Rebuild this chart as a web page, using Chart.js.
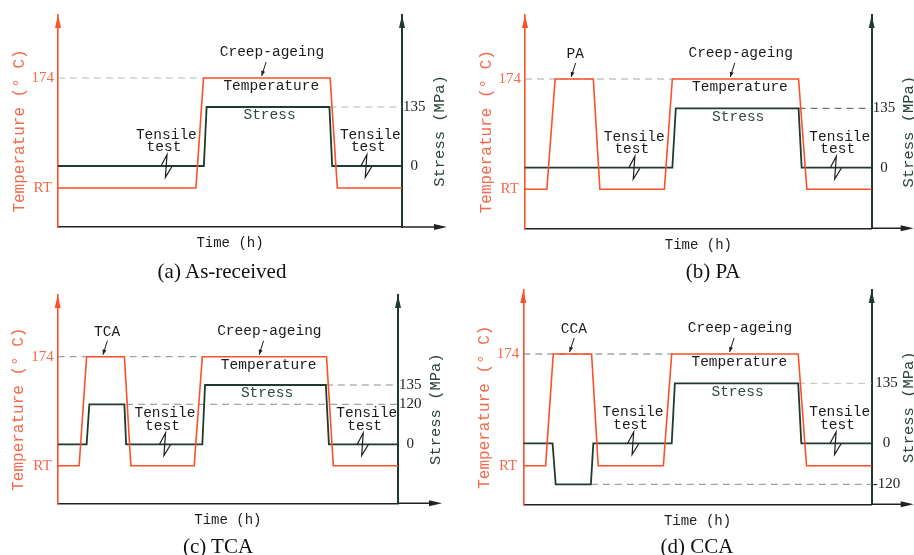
<!DOCTYPE html>
<html>
<head>
<meta charset="utf-8">
<script src="https://cdn.jsdelivr.net/npm/chart.js@4/dist/chart.umd.min.js"></script>
<style>
  body { margin: 0; background: #fff; width: 914px; height: 555px; position: relative; overflow: hidden; }
  canvas { position: absolute; }
  .caption { position: absolute; font-family: "Liberation Serif", serif; font-size: 21px; line-height: 26px; color: #111; white-space: nowrap; transform: translateX(-50%); }
</style>
</head>
<body>
<canvas id="chart-a" width="457" height="277" style="left:0;top:0"></canvas>
<canvas id="chart-b" width="457" height="277" style="left:457px;top:0"></canvas>
<canvas id="chart-c" width="457" height="278" style="left:0;top:277px"></canvas>
<canvas id="chart-d" width="457" height="278" style="left:457px;top:277px"></canvas>
<div class="caption" style="left:222px;top:258px">(a) As-received</div>
<div class="caption" style="left:713px;top:258px">(b) PA</div>
<div class="caption" style="left:218px;top:533px">(c) TCA</div>
<div class="caption" style="left:697px;top:533px">(d) CCA</div>
<script>
// schedule values; time is a 0-100 schematic axis
const RT = 25;
const tempTicks = [RT, 174];

const tempTimeA = [0, 40.1, 42.3, 79.1, 81.2, 100];
const tempValA = [RT, RT, 174, 174, RT, RT];
const stressTimeA = [0, 42.4, 43.2, 78.9, 79.7, 100];
const stressValA = [0, 0, 135, 135, 0, 0];
const stressTicksA = [0, 135];

const tempTimeB = [0, 6.3, 8.7, 19.7, 21.6, 40.2, 42.5, 78.9, 81.3, 100];
const tempValB = [RT, RT, 174, 174, RT, RT, 174, 174, RT, RT];
const stressTimeB = [0, 42.5, 43.5, 78.9, 79.8, 100];
const stressValB = [0, 0, 135, 135, 0, 0];
const stressTicksB = [0, 135];

const tempTimeC = [0, 6.3, 8.5, 19.6, 21.5, 40.1, 42.5, 79.0, 81.0, 100];
const tempValC = [RT, RT, 174, 174, RT, RT, 174, 174, RT, RT];
const stressTimeC = [0, 8.5, 9.3, 19.6, 20.1, 42.5, 43.3, 78.8, 79.7, 100];
const stressValC = [0, 0, 120, 120, 0, 0, 135, 135, 0, 0];
const stressTicksC = [0, 120, 135];

const tempTimeD = [0, 6.4, 8.6, 19.6, 21.5, 40.2, 42.6, 78.9, 81.3, 100];
const tempValD = [RT, RT, 174, 174, RT, RT, 174, 174, RT, RT];
const stressTimeD = [0, 8.4, 9.3, 19.4, 20.1, 42.6, 43.5, 78.9, 79.8, 100];
const stressValD = [0, 0, -120, -120, 0, 0, 135, 135, 0, 0];
const stressTicksD = [-120, 0, 135];

const ORANGE = '#fa5128';
const ORANGE_TEXT = '#f3694a';
const GREEN = '#1f3b2d';
const INK = '#1c1c1c';
const MONO = '"Liberation Mono", "DejaVu Sans Mono", monospace';
const SERIF = '"Liberation Serif", serif';

// the stress axis in (c) and (d) is drawn "not to scale" in the figure,
// so it gets a piecewise-linear scale (knot value -> fraction of axis height)
class KneeScale extends Chart.LinearScale {
  getPixelForValue(value) {
    const vals = this.options.knotValues;
    const decs = this.options.knotDecimals;
    let i = 1;
    while (i < vals.length - 1 && value > vals[i]) i++;
    const t = (value - vals[i - 1]) / (vals[i] - vals[i - 1]);
    return this.getPixelForDecimal(decs[i - 1] + t * (decs[i] - decs[i - 1]));
  }
}
KneeScale.id = 'knee';
Chart.register(KneeScale);

const panels = [
  {
    canvas: 'chart-a', w: 457, h: 277, area: { l: 58, r: 402, t: 15, b: 227 },
    tempRange: [-27.8, 259.3], stressRange: [-139.6, 345.5],
    temp: [tempTimeA, tempValA], stress: [stressTimeA, stressValA], stressTicks: stressTicksA,
    pre: null, xArrow: 45,
    dashes: [
      { axis: 'yT', value: 174, from: 0, to: 42.3, color: '#b8b8b8' },
      { axis: 'yS', value: 135, from: 78.9, to: 100, color: '#b8b8b8' },
    ],
  },
  {
    canvas: 'chart-b', w: 457, h: 277, area: { l: 68, r: 414.7, t: 15, b: 228.3 },
    tempRange: [-27.7, 260.5], stressRange: [-137.7, 347],
    temp: [tempTimeB, tempValB], stress: [stressTimeB, stressValB], stressTicks: stressTicksB,
    pre: 'PA', xArrow: 42,
    dashes: [
      { axis: 'yT', value: 174, from: 0, to: 42.5, color: '#a8a8a8' },
      { axis: 'yS', value: 135, from: 78.9, to: 100, color: '#555' },
    ],
  },
  {
    canvas: 'chart-c', w: 457, h: 278, area: { l: 57.7, r: 398, t: 18, b: 226.3 },
    tempRange: [-26.4, 258.3],
    knots: { values: [-134, 0, 120, 135, 340], decimals: [0, 0.2832, 0.4753, 0.5679, 1] },
    temp: [tempTimeC, tempValC], stress: [stressTimeC, stressValC], stressTicks: stressTicksC,
    pre: 'TCA', xArrow: 44,
    dashes: [
      { axis: 'yT', value: 174, from: 0, to: 42.5, color: '#8c8c8c' },
      { axis: 'yS', value: 135, from: 78.8, to: 100, color: '#8c8c8c' },
      { axis: 'yS', value: 120, from: 20.1, to: 100, color: '#8c8c8c' },
    ],
  },
  {
    canvas: 'chart-d', w: 457, h: 278, area: { l: 66.3, r: 414.7, t: 13, b: 227.3 },
    tempRange: [-26.5, 259.4],
    knots: { values: [-178.5, -120, 0, 135, 345], decimals: [0, 0.0933, 0.2846, 0.5646, 1] },
    temp: [tempTimeD, tempValD], stress: [stressTimeD, stressValD], stressTicks: stressTicksD,
    pre: 'CCA', xArrow: 42,
    dashes: [
      { axis: 'yT', value: 174, from: 0, to: 42.6, color: '#777' },
      { axis: 'yS', value: 135, from: 78.9, to: 100, color: '#bdbdbd' },
      { axis: 'yS', value: -120, from: 19.4, to: 100, color: '#8c8c8c' },
    ],
  },
];

const toPoints = (times, values) => times.map((t, i) => ({ x: t, y: values[i] }));

const arrowHead = (ctx, x, y, dx, dy, len, half, color) => {
  ctx.fillStyle = color;
  ctx.beginPath();
  ctx.moveTo(x, y);
  ctx.lineTo(x - dx * len - dy * half, y - dy * len + dx * half);
  ctx.lineTo(x - dx * len + dy * half, y - dy * len - dx * half);
  ctx.closePath();
  ctx.fill();
};

const label = (ctx, str, x, y, font, color) => {
  ctx.font = font;
  ctx.fillStyle = color;
  ctx.textAlign = 'center';
  ctx.textBaseline = 'middle';
  ctx.fillText(str, x, y);
};

const pointer = (ctx, x1, y1, x2, y2) => {
  ctx.strokeStyle = INK;
  ctx.lineWidth = 1;
  ctx.beginPath();
  ctx.moveTo(x1, y1);
  ctx.lineTo(x2, y2);
  ctx.stroke();
  const len = Math.hypot(x2 - x1, y2 - y1);
  arrowHead(ctx, x2, y2, (x2 - x1) / len, (y2 - y1) / len, 5, 2, INK);
};

// the little zig-zag that marks the tensile test on the stress line
const breakMark = (ctx, x, y) => {
  const pts = [[-5.7, 0], [0.3, -11.3], [-1.3, 11.3], [5.3, 0.5]];
  ctx.strokeStyle = INK;
  ctx.lineWidth = 1.2;
  ctx.beginPath();
  pts.forEach(([dx, dy], i) => i ? ctx.lineTo(x + dx, y + dy) : ctx.moveTo(x + dx, y + dy));
  ctx.stroke();
};

const schematicPlugin = panel => ({
  id: 'schematic',
  beforeDatasetsDraw(chart) {
    const { ctx, scales } = chart;
    ctx.save();
    ctx.lineWidth = 1;
    ctx.setLineDash([7, 5]);
    panel.dashes.forEach(d => {
      const y = scales[d.axis].getPixelForValue(d.value);
      ctx.strokeStyle = d.color;
      ctx.beginPath();
      ctx.moveTo(scales.x.getPixelForValue(d.from), y);
      ctx.lineTo(scales.x.getPixelForValue(d.to), y);
      ctx.stroke();
    });
    ctx.restore();
  },
  afterDraw(chart) {
    const { ctx, scales, chartArea } = chart;
    const { left, right, top, bottom } = chartArea;
    const xp = v => scales.x.getPixelForValue(v);
    const y174 = scales.yT.getPixelForValue(174);
    const y135 = scales.yS.getPixelForValue(135);
    const y0 = scales.yS.getPixelForValue(0);
    ctx.save();

    // axis arrows
    arrowHead(ctx, left, top, 0, -1, 13, 3, ORANGE);
    arrowHead(ctx, right, top, 0, -1, 13, 3, GREEN);
    ctx.strokeStyle = '#222';
    ctx.lineWidth = 1.5;
    ctx.beginPath();
    ctx.moveTo(right, bottom);
    ctx.lineTo(right + panel.xArrow - 6, bottom);
    ctx.stroke();
    arrowHead(ctx, right + panel.xArrow, bottom, 1, 0, 13, 3, '#222');

    // axis titles
    const midY = (top + bottom) / 2 + 10;
    [[left - 38.5, 'Temperature (° C)', ORANGE_TEXT, `16px ${MONO}`],
     [right + 37.5, 'Stress (MPa)', '#2a4536', `15.5px ${MONO}`]].forEach(([x, str, color, font]) => {
      ctx.save();
      ctx.translate(x, midY);
      ctx.rotate(-Math.PI / 2);
      label(ctx, str, 0, 0, font, color);
      ctx.restore();
    });

    // notes inside the plot
    const note = `14.5px ${MONO}`;
    label(ctx, 'Creep-ageing', xp(62.2), y174 - 26, note, INK);
    pointer(ctx, xp(60.5), y174 - 16, xp(59.2), y174 - 2);
    label(ctx, 'Temperature', xp(62), y174 + 8.5, note, INK);
    label(ctx, 'Stress', xp(61.5), y135 + 8.5, note, '#2d4a3e');
    if (panel.pre) {
      label(ctx, panel.pre, xp(14.5), y174 - 25, note, INK);
      pointer(ctx, xp(14.6), y174 - 16, xp(13.3), y174 - 2);
    }
    [[31.5, 30.8, 31.6], [90.8, 90.2, 89.7]].forEach(([tx, sx, bx]) => {
      label(ctx, 'Tensile', xp(tx), y0 - 31, note, INK);
      label(ctx, 'test', xp(sx), y0 - 18.5, note, INK);
      breakMark(ctx, xp(bx), y0);
    });
    ctx.restore();
  },
});

const stressAxis = panel => {
  const axis = {
    position: 'right', bounds: 'data',
    grid: { display: false, drawTicks: false },
    border: { color: GREEN, width: 2 },
    afterBuildTicks: s => { s.ticks = panel.stressTicks.map(v => ({ value: v })); },
    ticks: {
      autoSkip: false, crossAlign: 'center', padding: 1, color: '#222',
      font: { family: SERIF, size: 15 },
      callback: v => String(v),
    },
    afterFit: s => { s.width = 30; },
  };
  if (panel.knots) {
    const k = panel.knots;
    return { ...axis, type: 'knee', min: k.values[0], max: k.values[k.values.length - 1], knotValues: k.values, knotDecimals: k.decimals };
  }
  return { ...axis, type: 'linear', min: panel.stressRange[0], max: panel.stressRange[1] };
};

const drawPanel = panel => {
  const a = panel.area;
  return new Chart(document.getElementById(panel.canvas), {
    type: 'line',
    data: {
      datasets: [
        { label: 'Temperature', data: toPoints(...panel.temp), yAxisID: 'yT', borderColor: ORANGE, borderWidth: 1.6, pointRadius: 0, tension: 0 },
        { label: 'Stress', data: toPoints(...panel.stress), yAxisID: 'yS', borderColor: GREEN, borderWidth: 1.8, pointRadius: 0, tension: 0 },
      ],
    },
    options: {
      responsive: false,
      animation: false,
      devicePixelRatio: 1,
      layout: { padding: { left: a.l - 40, right: panel.w - a.r - 30, top: a.t, bottom: panel.h - a.b - 30 } },
      plugins: { legend: { display: false }, tooltip: { enabled: false } },
      scales: {
        x: {
          type: 'linear', min: 0, max: 100,
          grid: { display: false, drawTicks: false },
          border: { color: '#222', width: 1.5 },
          ticks: { display: false },
          title: { display: true, text: 'Time (h)', color: INK, font: { family: MONO, size: 14 }, padding: { top: 0, bottom: 5 } },
          afterFit: s => { s.height = 30; },
        },
        yT: {
          type: 'linear', position: 'left', bounds: 'data',
          min: panel.tempRange[0], max: panel.tempRange[1],
          grid: { display: false, drawTicks: false },
          border: { color: ORANGE, width: 1.6 },
          afterBuildTicks: s => { s.ticks = tempTicks.map(v => ({ value: v })); },
          ticks: {
            autoSkip: false, crossAlign: 'center', padding: 4, color: ORANGE_TEXT,
            font: { family: SERIF, size: 15 },
            callback: v => (v === RT ? 'RT' : String(v)),
          },
          afterFit: s => { s.width = 40; },
        },
        yS: stressAxis(panel),
      },
    },
    plugins: [schematicPlugin(panel)],
  });
};

panels.forEach(drawPanel);
</script>
</body>
</html>
